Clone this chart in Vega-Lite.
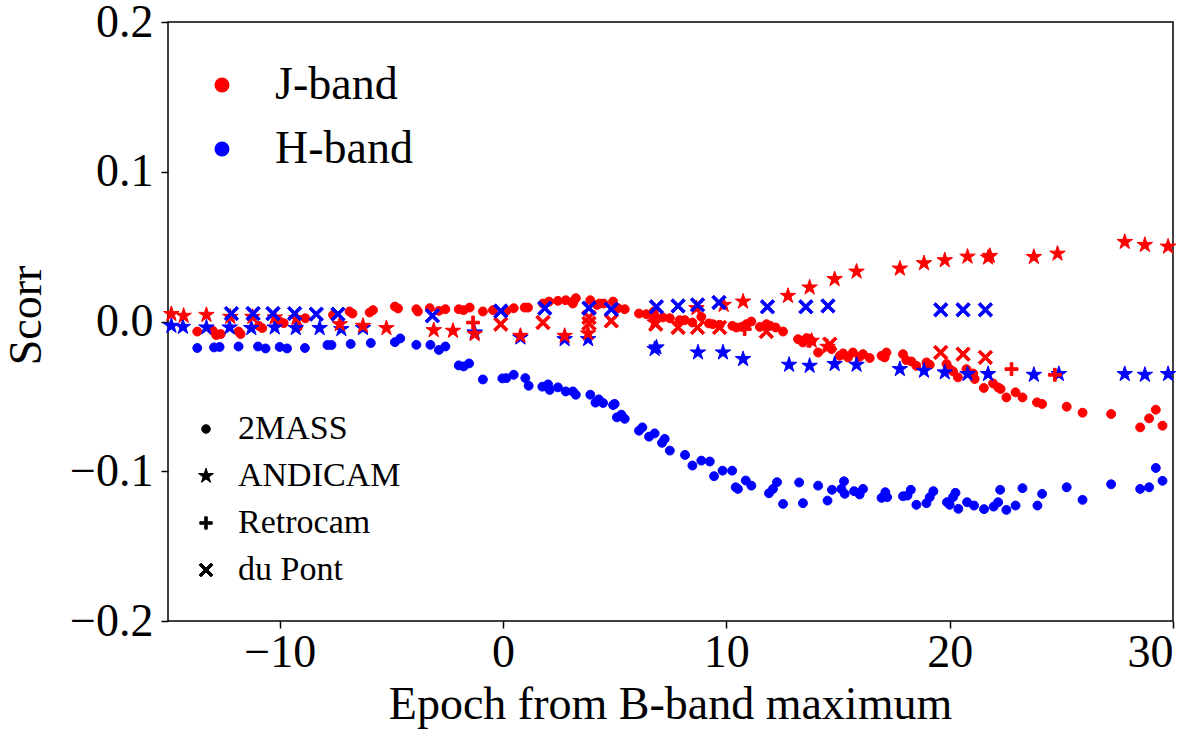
{
"$schema":"https://vega.github.io/schema/vega-lite/v6.json",
"width":1005,"height":599,
"autosize":{"type":"none"},
"padding":{"left":168,"top":22,"right":27,"bottom":116},
"background":"white",
"config":{"view":{"stroke":"black","strokeWidth":1.5},"font":"Liberation Serif",
"axis":{"grid":false,"domain":false,"tickColor":"black","tickWidth":1.5,"tickSize":7,"labelColor":"black","titleColor":"black","labelFontSize":46,"titleFontSize":46,"titleFontWeight":"normal","labelFont":"Liberation Serif","titleFont":"Liberation Serif"},
"legend":{"padding":0,"labelFont":"Liberation Serif","labelColor":"black","labelLimit":500}},
"datasets":{"pts":[
{"t":-13.69,"s":-0.0067,"b":"J-band","i":"2MASS"},{"t":-12.99,"s":-0.0062,"b":"J-band","i":"2MASS"},{"t":-12.84,"s":-0.0091,"b":"J-band","i":"2MASS"},{"t":-12.64,"s":-0.0084,"b":"J-band","i":"2MASS"},{"t":-11.84,"s":-0.0067,"b":"J-band","i":"2MASS"},{"t":-11.75,"s":-0.0084,"b":"J-band","i":"2MASS"},{"t":-10.93,"s":-0.0029,"b":"J-band","i":"2MASS"},{"t":-10.78,"s":-0.0044,"b":"J-band","i":"2MASS"},{"t":-10.0,"s":0.0,"b":"J-band","i":"2MASS"},{"t":-9.82,"s":-0.0011,"b":"J-band","i":"2MASS"},{"t":-9.18,"s":-0.0036,"b":"J-band","i":"2MASS"},{"t":-8.85,"s":0.0022,"b":"J-band","i":"2MASS"},{"t":-7.61,"s":0.0044,"b":"J-band","i":"2MASS"},{"t":-6.87,"s":0.0067,"b":"J-band","i":"2MASS"},{"t":-6.74,"s":0.0053,"b":"J-band","i":"2MASS"},{"t":-5.97,"s":0.006,"b":"J-band","i":"2MASS"},{"t":-5.82,"s":0.0076,"b":"J-band","i":"2MASS"},{"t":-4.84,"s":0.01,"b":"J-band","i":"2MASS"},{"t":-4.7,"s":0.0087,"b":"J-band","i":"2MASS"},{"t":-3.88,"s":0.0082,"b":"J-band","i":"2MASS"},{"t":-3.81,"s":0.0067,"b":"J-band","i":"2MASS"},{"t":-3.28,"s":0.0089,"b":"J-band","i":"2MASS"},{"t":-2.87,"s":0.0071,"b":"J-band","i":"2MASS"},{"t":-2.58,"s":0.0082,"b":"J-band","i":"2MASS"},{"t":-1.98,"s":0.0082,"b":"J-band","i":"2MASS"},{"t":-1.76,"s":0.0076,"b":"J-band","i":"2MASS"},{"t":-1.49,"s":0.0093,"b":"J-band","i":"2MASS"},{"t":-0.9,"s":0.0067,"b":"J-band","i":"2MASS"},{"t":-0.45,"s":0.0076,"b":"J-band","i":"2MASS"},{"t":0.15,"s":0.0071,"b":"J-band","i":"2MASS"},{"t":0.48,"s":0.0089,"b":"J-band","i":"2MASS"},{"t":0.97,"s":0.0093,"b":"J-band","i":"2MASS"},{"t":1.12,"s":0.0093,"b":"J-band","i":"2MASS"},{"t":1.79,"s":0.012,"b":"J-band","i":"2MASS"},{"t":2.06,"s":0.0133,"b":"J-band","i":"2MASS"},{"t":2.46,"s":0.0138,"b":"J-band","i":"2MASS"},{"t":2.81,"s":0.0142,"b":"J-band","i":"2MASS"},{"t":3.17,"s":0.0138,"b":"J-band","i":"2MASS"},{"t":3.26,"s":0.0156,"b":"J-band","i":"2MASS"},{"t":3.13,"s":0.012,"b":"J-band","i":"2MASS"},{"t":3.91,"s":0.0142,"b":"J-band","i":"2MASS"},{"t":4.21,"s":0.0111,"b":"J-band","i":"2MASS"},{"t":4.33,"s":0.012,"b":"J-band","i":"2MASS"},{"t":4.51,"s":0.012,"b":"J-band","i":"2MASS"},{"t":4.93,"s":0.0133,"b":"J-band","i":"2MASS"},{"t":5.15,"s":0.0089,"b":"J-band","i":"2MASS"},{"t":5.45,"s":0.0082,"b":"J-band","i":"2MASS"},{"t":6.09,"s":0.0053,"b":"J-band","i":"2MASS"},{"t":6.42,"s":0.0049,"b":"J-band","i":"2MASS"},{"t":6.75,"s":0.0067,"b":"J-band","i":"2MASS"},{"t":6.79,"s":0.0038,"b":"J-band","i":"2MASS"},{"t":7.16,"s":0.0027,"b":"J-band","i":"2MASS"},{"t":7.47,"s":0.0022,"b":"J-band","i":"2MASS"},{"t":7.91,"s":0.0009,"b":"J-band","i":"2MASS"},{"t":8.14,"s":0.0009,"b":"J-band","i":"2MASS"},{"t":8.48,"s":-0.0007,"b":"J-band","i":"2MASS"},{"t":8.88,"s":0.0031,"b":"J-band","i":"2MASS"},{"t":9.22,"s":-0.0013,"b":"J-band","i":"2MASS"},{"t":9.4,"s":-0.0018,"b":"J-band","i":"2MASS"},{"t":9.7,"s":-0.0022,"b":"J-band","i":"2MASS"},{"t":10.27,"s":-0.0029,"b":"J-band","i":"2MASS"},{"t":10.45,"s":-0.004,"b":"J-band","i":"2MASS"},{"t":10.68,"s":-0.0036,"b":"J-band","i":"2MASS"},{"t":10.9,"s":-0.0018,"b":"J-band","i":"2MASS"},{"t":11.12,"s":0.0,"b":"J-band","i":"2MASS"},{"t":11.5,"s":-0.0036,"b":"J-band","i":"2MASS"},{"t":11.8,"s":-0.0018,"b":"J-band","i":"2MASS"},{"t":11.97,"s":-0.0029,"b":"J-band","i":"2MASS"},{"t":12.21,"s":-0.004,"b":"J-band","i":"2MASS"},{"t":12.54,"s":-0.0067,"b":"J-band","i":"2MASS"},{"t":13.21,"s":-0.0118,"b":"J-band","i":"2MASS"},{"t":13.43,"s":-0.014,"b":"J-band","i":"2MASS"},{"t":13.59,"s":-0.0111,"b":"J-band","i":"2MASS"},{"t":13.81,"s":-0.0129,"b":"J-band","i":"2MASS"},{"t":14.11,"s":-0.0207,"b":"J-band","i":"2MASS"},{"t":14.71,"s":-0.0184,"b":"J-band","i":"2MASS"},{"t":15.08,"s":-0.0229,"b":"J-band","i":"2MASS"},{"t":15.23,"s":-0.0213,"b":"J-band","i":"2MASS"},{"t":15.45,"s":-0.024,"b":"J-band","i":"2MASS"},{"t":15.67,"s":-0.0207,"b":"J-band","i":"2MASS"},{"t":15.97,"s":-0.0236,"b":"J-band","i":"2MASS"},{"t":16.12,"s":-0.0218,"b":"J-band","i":"2MASS"},{"t":16.42,"s":-0.0244,"b":"J-band","i":"2MASS"},{"t":16.95,"s":-0.0229,"b":"J-band","i":"2MASS"},{"t":17.17,"s":-0.0207,"b":"J-band","i":"2MASS"},{"t":17.09,"s":-0.024,"b":"J-band","i":"2MASS"},{"t":17.91,"s":-0.0218,"b":"J-band","i":"2MASS"},{"t":18.06,"s":-0.0258,"b":"J-band","i":"2MASS"},{"t":18.29,"s":-0.0267,"b":"J-band","i":"2MASS"},{"t":18.51,"s":-0.0296,"b":"J-band","i":"2MASS"},{"t":18.96,"s":-0.0273,"b":"J-band","i":"2MASS"},{"t":19.11,"s":-0.0289,"b":"J-band","i":"2MASS"},{"t":19.86,"s":-0.0284,"b":"J-band","i":"2MASS"},{"t":20.0,"s":-0.0318,"b":"J-band","i":"2MASS"},{"t":20.15,"s":-0.0333,"b":"J-band","i":"2MASS"},{"t":20.37,"s":-0.0373,"b":"J-band","i":"2MASS"},{"t":20.75,"s":-0.0318,"b":"J-band","i":"2MASS"},{"t":21.05,"s":-0.0347,"b":"J-band","i":"2MASS"},{"t":21.12,"s":-0.0384,"b":"J-band","i":"2MASS"},{"t":21.53,"s":-0.0444,"b":"J-band","i":"2MASS"},{"t":21.94,"s":-0.0413,"b":"J-band","i":"2MASS"},{"t":22.17,"s":-0.044,"b":"J-band","i":"2MASS"},{"t":22.28,"s":-0.0451,"b":"J-band","i":"2MASS"},{"t":22.54,"s":-0.0507,"b":"J-band","i":"2MASS"},{"t":22.95,"s":-0.0473,"b":"J-band","i":"2MASS"},{"t":23.26,"s":-0.0507,"b":"J-band","i":"2MASS"},{"t":23.91,"s":-0.054,"b":"J-band","i":"2MASS"},{"t":24.14,"s":-0.0551,"b":"J-band","i":"2MASS"},{"t":25.24,"s":-0.0569,"b":"J-band","i":"2MASS"},{"t":25.95,"s":-0.0609,"b":"J-band","i":"2MASS"},{"t":27.23,"s":-0.0618,"b":"J-band","i":"2MASS"},{"t":28.53,"s":-0.0707,"b":"J-band","i":"2MASS"},{"t":28.93,"s":-0.0647,"b":"J-band","i":"2MASS"},{"t":29.23,"s":-0.0589,"b":"J-band","i":"2MASS"},{"t":29.53,"s":-0.0696,"b":"J-band","i":"2MASS"},
{"t":-13.69,"s":-0.0177,"b":"H-band","i":"2MASS"},{"t":-12.94,"s":-0.0173,"b":"H-band","i":"2MASS"},{"t":-12.69,"s":-0.017,"b":"H-band","i":"2MASS"},{"t":-11.84,"s":-0.0167,"b":"H-band","i":"2MASS"},{"t":-10.97,"s":-0.0167,"b":"H-band","i":"2MASS"},{"t":-10.63,"s":-0.018,"b":"H-band","i":"2MASS"},{"t":-10.0,"s":-0.017,"b":"H-band","i":"2MASS"},{"t":-9.67,"s":-0.018,"b":"H-band","i":"2MASS"},{"t":-8.87,"s":-0.0177,"b":"H-band","i":"2MASS"},{"t":-7.86,"s":-0.0157,"b":"H-band","i":"2MASS"},{"t":-7.68,"s":-0.0157,"b":"H-band","i":"2MASS"},{"t":-6.82,"s":-0.015,"b":"H-band","i":"2MASS"},{"t":-5.92,"s":-0.0144,"b":"H-band","i":"2MASS"},{"t":-4.84,"s":-0.0138,"b":"H-band","i":"2MASS"},{"t":-4.6,"s":-0.0113,"b":"H-band","i":"2MASS"},{"t":-3.88,"s":-0.0156,"b":"H-band","i":"2MASS"},{"t":-3.25,"s":-0.0156,"b":"H-band","i":"2MASS"},{"t":-2.87,"s":-0.019,"b":"H-band","i":"2MASS"},{"t":-2.58,"s":-0.0167,"b":"H-band","i":"2MASS"},{"t":-1.98,"s":-0.0293,"b":"H-band","i":"2MASS"},{"t":-1.76,"s":-0.03,"b":"H-band","i":"2MASS"},{"t":-1.52,"s":-0.028,"b":"H-band","i":"2MASS"},{"t":-0.9,"s":-0.0387,"b":"H-band","i":"2MASS"},{"t":-0.03,"s":-0.038,"b":"H-band","i":"2MASS"},{"t":0.15,"s":-0.0378,"b":"H-band","i":"2MASS"},{"t":0.48,"s":-0.0356,"b":"H-band","i":"2MASS"},{"t":1.0,"s":-0.0378,"b":"H-band","i":"2MASS"},{"t":1.15,"s":-0.0429,"b":"H-band","i":"2MASS"},{"t":1.76,"s":-0.0435,"b":"H-band","i":"2MASS"},{"t":2.02,"s":-0.042,"b":"H-band","i":"2MASS"},{"t":2.09,"s":-0.0457,"b":"H-band","i":"2MASS"},{"t":2.46,"s":-0.044,"b":"H-band","i":"2MASS"},{"t":2.81,"s":-0.0467,"b":"H-band","i":"2MASS"},{"t":3.13,"s":-0.0467,"b":"H-band","i":"2MASS"},{"t":3.26,"s":-0.0489,"b":"H-band","i":"2MASS"},{"t":3.91,"s":-0.0489,"b":"H-band","i":"2MASS"},{"t":4.14,"s":-0.0542,"b":"H-band","i":"2MASS"},{"t":4.29,"s":-0.052,"b":"H-band","i":"2MASS"},{"t":4.48,"s":-0.0544,"b":"H-band","i":"2MASS"},{"t":4.93,"s":-0.0558,"b":"H-band","i":"2MASS"},{"t":5.0,"s":-0.055,"b":"H-band","i":"2MASS"},{"t":5.1,"s":-0.064,"b":"H-band","i":"2MASS"},{"t":5.3,"s":-0.0622,"b":"H-band","i":"2MASS"},{"t":5.45,"s":-0.065,"b":"H-band","i":"2MASS"},{"t":6.09,"s":-0.0729,"b":"H-band","i":"2MASS"},{"t":6.24,"s":-0.0707,"b":"H-band","i":"2MASS"},{"t":6.54,"s":-0.0769,"b":"H-band","i":"2MASS"},{"t":6.79,"s":-0.0747,"b":"H-band","i":"2MASS"},{"t":7.12,"s":-0.081,"b":"H-band","i":"2MASS"},{"t":7.24,"s":-0.0784,"b":"H-band","i":"2MASS"},{"t":7.47,"s":-0.0862,"b":"H-band","i":"2MASS"},{"t":8.15,"s":-0.0891,"b":"H-band","i":"2MASS"},{"t":8.48,"s":-0.0962,"b":"H-band","i":"2MASS"},{"t":8.88,"s":-0.0929,"b":"H-band","i":"2MASS"},{"t":9.26,"s":-0.0935,"b":"H-band","i":"2MASS"},{"t":9.45,"s":-0.1033,"b":"H-band","i":"2MASS"},{"t":9.83,"s":-0.0996,"b":"H-band","i":"2MASS"},{"t":10.26,"s":-0.0996,"b":"H-band","i":"2MASS"},{"t":10.42,"s":-0.1107,"b":"H-band","i":"2MASS"},{"t":10.52,"s":-0.1118,"b":"H-band","i":"2MASS"},{"t":10.87,"s":-0.1062,"b":"H-band","i":"2MASS"},{"t":11.12,"s":-0.1096,"b":"H-band","i":"2MASS"},{"t":11.91,"s":-0.1147,"b":"H-band","i":"2MASS"},{"t":12.09,"s":-0.1118,"b":"H-band","i":"2MASS"},{"t":12.27,"s":-0.1073,"b":"H-band","i":"2MASS"},{"t":12.54,"s":-0.1218,"b":"H-band","i":"2MASS"},{"t":13.26,"s":-0.1075,"b":"H-band","i":"2MASS"},{"t":13.43,"s":-0.1213,"b":"H-band","i":"2MASS"},{"t":14.11,"s":-0.1096,"b":"H-band","i":"2MASS"},{"t":14.53,"s":-0.1196,"b":"H-band","i":"2MASS"},{"t":14.73,"s":-0.1124,"b":"H-band","i":"2MASS"},{"t":15.15,"s":-0.1118,"b":"H-band","i":"2MASS"},{"t":15.27,"s":-0.1067,"b":"H-band","i":"2MASS"},{"t":15.3,"s":-0.1151,"b":"H-band","i":"2MASS"},{"t":15.72,"s":-0.1133,"b":"H-band","i":"2MASS"},{"t":15.97,"s":-0.1155,"b":"H-band","i":"2MASS"},{"t":16.12,"s":-0.1118,"b":"H-band","i":"2MASS"},{"t":16.95,"s":-0.1178,"b":"H-band","i":"2MASS"},{"t":17.12,"s":-0.114,"b":"H-band","i":"2MASS"},{"t":17.2,"s":-0.1173,"b":"H-band","i":"2MASS"},{"t":17.91,"s":-0.1167,"b":"H-band","i":"2MASS"},{"t":18.11,"s":-0.1162,"b":"H-band","i":"2MASS"},{"t":18.26,"s":-0.1124,"b":"H-band","i":"2MASS"},{"t":18.51,"s":-0.1224,"b":"H-band","i":"2MASS"},{"t":18.96,"s":-0.1213,"b":"H-band","i":"2MASS"},{"t":19.11,"s":-0.1173,"b":"H-band","i":"2MASS"},{"t":19.27,"s":-0.1133,"b":"H-band","i":"2MASS"},{"t":19.88,"s":-0.1207,"b":"H-band","i":"2MASS"},{"t":20.0,"s":-0.1224,"b":"H-band","i":"2MASS"},{"t":20.15,"s":-0.1173,"b":"H-band","i":"2MASS"},{"t":20.26,"s":-0.1144,"b":"H-band","i":"2MASS"},{"t":20.39,"s":-0.1251,"b":"H-band","i":"2MASS"},{"t":20.78,"s":-0.1207,"b":"H-band","i":"2MASS"},{"t":21.09,"s":-0.1229,"b":"H-band","i":"2MASS"},{"t":21.54,"s":-0.1253,"b":"H-band","i":"2MASS"},{"t":21.97,"s":-0.1236,"b":"H-band","i":"2MASS"},{"t":22.17,"s":-0.1207,"b":"H-band","i":"2MASS"},{"t":22.26,"s":-0.1124,"b":"H-band","i":"2MASS"},{"t":22.54,"s":-0.1258,"b":"H-band","i":"2MASS"},{"t":22.95,"s":-0.1229,"b":"H-band","i":"2MASS"},{"t":23.26,"s":-0.1113,"b":"H-band","i":"2MASS"},{"t":23.93,"s":-0.1229,"b":"H-band","i":"2MASS"},{"t":24.14,"s":-0.1151,"b":"H-band","i":"2MASS"},{"t":25.24,"s":-0.1107,"b":"H-band","i":"2MASS"},{"t":25.95,"s":-0.1191,"b":"H-band","i":"2MASS"},{"t":27.23,"s":-0.1087,"b":"H-band","i":"2MASS"},{"t":28.53,"s":-0.1118,"b":"H-band","i":"2MASS"},{"t":28.93,"s":-0.1107,"b":"H-band","i":"2MASS"},{"t":29.23,"s":-0.0978,"b":"H-band","i":"2MASS"},{"t":29.53,"s":-0.1064,"b":"H-band","i":"2MASS"},
{"t":-14.85,"s":-0.0029,"b":"H-band","i":"ANDICAM"},{"t":-14.33,"s":-0.0036,"b":"H-band","i":"ANDICAM"},{"t":-13.28,"s":-0.004,"b":"H-band","i":"ANDICAM"},{"t":-12.24,"s":-0.004,"b":"H-band","i":"ANDICAM"},{"t":-11.27,"s":-0.0044,"b":"H-band","i":"ANDICAM"},{"t":-10.22,"s":-0.004,"b":"H-band","i":"ANDICAM"},{"t":-9.28,"s":-0.0044,"b":"H-band","i":"ANDICAM"},{"t":-8.21,"s":-0.0044,"b":"H-band","i":"ANDICAM"},{"t":-7.24,"s":-0.0051,"b":"H-band","i":"ANDICAM"},{"t":-6.27,"s":-0.0044,"b":"H-band","i":"ANDICAM"},{"t":-1.27,"s":-0.0073,"b":"H-band","i":"ANDICAM"},{"t":0.78,"s":-0.0107,"b":"H-band","i":"ANDICAM"},{"t":2.76,"s":-0.0118,"b":"H-band","i":"ANDICAM"},{"t":3.81,"s":-0.0118,"b":"H-band","i":"ANDICAM"},{"t":6.79,"s":-0.0184,"b":"H-band","i":"ANDICAM"},{"t":6.87,"s":-0.0173,"b":"H-band","i":"ANDICAM"},{"t":8.73,"s":-0.0207,"b":"H-band","i":"ANDICAM"},{"t":9.85,"s":-0.0207,"b":"H-band","i":"ANDICAM"},{"t":10.75,"s":-0.0251,"b":"H-band","i":"ANDICAM"},{"t":12.81,"s":-0.0289,"b":"H-band","i":"ANDICAM"},{"t":13.73,"s":-0.0296,"b":"H-band","i":"ANDICAM"},{"t":14.85,"s":-0.0284,"b":"H-band","i":"ANDICAM"},{"t":15.83,"s":-0.0289,"b":"H-band","i":"ANDICAM"},{"t":17.77,"s":-0.0318,"b":"H-band","i":"ANDICAM"},{"t":18.85,"s":-0.0329,"b":"H-band","i":"ANDICAM"},{"t":19.78,"s":-0.034,"b":"H-band","i":"ANDICAM"},{"t":20.8,"s":-0.0351,"b":"H-band","i":"ANDICAM"},{"t":21.72,"s":-0.0351,"b":"H-band","i":"ANDICAM"},{"t":23.77,"s":-0.0356,"b":"H-band","i":"ANDICAM"},{"t":24.89,"s":-0.0351,"b":"H-band","i":"ANDICAM"},{"t":27.84,"s":-0.0351,"b":"H-band","i":"ANDICAM"},{"t":28.74,"s":-0.0356,"b":"H-band","i":"ANDICAM"},{"t":29.78,"s":-0.0351,"b":"H-band","i":"ANDICAM"},
{"t":-14.85,"s":0.005,"b":"J-band","i":"ANDICAM"},{"t":-14.3,"s":0.0038,"b":"J-band","i":"ANDICAM"},{"t":-13.28,"s":0.0044,"b":"J-band","i":"ANDICAM"},{"t":-12.21,"s":0.0031,"b":"J-band","i":"ANDICAM"},{"t":-11.22,"s":0.0031,"b":"J-band","i":"ANDICAM"},{"t":-10.22,"s":0.0027,"b":"J-band","i":"ANDICAM"},{"t":-9.25,"s":0.0022,"b":"J-band","i":"ANDICAM"},{"t":-7.31,"s":-0.0018,"b":"J-band","i":"ANDICAM"},{"t":-6.27,"s":-0.0029,"b":"J-band","i":"ANDICAM"},{"t":-5.22,"s":-0.0044,"b":"J-band","i":"ANDICAM"},{"t":-3.1,"s":-0.0058,"b":"J-band","i":"ANDICAM"},{"t":-2.24,"s":-0.0062,"b":"J-band","i":"ANDICAM"},{"t":-1.27,"s":-0.0084,"b":"J-band","i":"ANDICAM"},{"t":0.78,"s":-0.0096,"b":"J-band","i":"ANDICAM"},{"t":2.76,"s":-0.0096,"b":"J-band","i":"ANDICAM"},{"t":3.81,"s":-0.008,"b":"J-band","i":"ANDICAM"},{"t":6.79,"s":-0.0007,"b":"J-band","i":"ANDICAM"},{"t":8.66,"s":0.0089,"b":"J-band","i":"ANDICAM"},{"t":9.88,"s":0.0111,"b":"J-band","i":"ANDICAM"},{"t":10.75,"s":0.0133,"b":"J-band","i":"ANDICAM"},{"t":12.76,"s":0.0171,"b":"J-band","i":"ANDICAM"},{"t":13.73,"s":0.0227,"b":"J-band","i":"ANDICAM"},{"t":14.85,"s":0.0283,"b":"J-band","i":"ANDICAM"},{"t":15.83,"s":0.0333,"b":"J-band","i":"ANDICAM"},{"t":17.77,"s":0.0353,"b":"J-band","i":"ANDICAM"},{"t":18.85,"s":0.0389,"b":"J-band","i":"ANDICAM"},{"t":19.78,"s":0.0409,"b":"J-band","i":"ANDICAM"},{"t":20.8,"s":0.0433,"b":"J-band","i":"ANDICAM"},{"t":21.72,"s":0.0427,"b":"J-band","i":"ANDICAM"},{"t":21.8,"s":0.0438,"b":"J-band","i":"ANDICAM"},{"t":23.77,"s":0.0431,"b":"J-band","i":"ANDICAM"},{"t":24.83,"s":0.0453,"b":"J-band","i":"ANDICAM"},{"t":27.84,"s":0.0531,"b":"J-band","i":"ANDICAM"},{"t":28.74,"s":0.0511,"b":"J-band","i":"ANDICAM"},{"t":29.78,"s":0.05,"b":"J-band","i":"ANDICAM"},{"t":13.82,"s":-0.0129,"b":"J-band","i":"ANDICAM"},{"t":14.53,"s":-0.0169,"b":"J-band","i":"ANDICAM"},
{"t":-0.1,"s":-0.0018,"b":"J-band","i":"du Pont"},{"t":1.79,"s":-0.0007,"b":"J-band","i":"du Pont"},{"t":3.85,"s":0.0027,"b":"J-band","i":"du Pont"},{"t":3.85,"s":-0.0013,"b":"J-band","i":"du Pont"},{"t":4.85,"s":0.0004,"b":"J-band","i":"du Pont"},{"t":6.84,"s":-0.0018,"b":"J-band","i":"du Pont"},{"t":7.84,"s":-0.004,"b":"J-band","i":"du Pont"},{"t":8.71,"s":-0.004,"b":"J-band","i":"du Pont"},{"t":9.7,"s":-0.004,"b":"J-band","i":"du Pont"},{"t":11.79,"s":-0.0067,"b":"J-band","i":"du Pont"},{"t":14.63,"s":-0.0151,"b":"J-band","i":"du Pont"},{"t":19.6,"s":-0.0207,"b":"J-band","i":"du Pont"},{"t":20.6,"s":-0.0218,"b":"J-band","i":"du Pont"},{"t":21.6,"s":-0.024,"b":"J-band","i":"du Pont"},
{"t":-12.16,"s":0.0053,"b":"H-band","i":"du Pont"},{"t":-11.19,"s":0.0053,"b":"H-band","i":"du Pont"},{"t":-10.3,"s":0.0053,"b":"H-band","i":"du Pont"},{"t":-9.33,"s":0.0053,"b":"H-band","i":"du Pont"},{"t":-8.36,"s":0.0049,"b":"H-band","i":"du Pont"},{"t":-7.39,"s":0.0049,"b":"H-band","i":"du Pont"},{"t":-3.16,"s":0.0038,"b":"H-band","i":"du Pont"},{"t":-0.1,"s":0.007,"b":"H-band","i":"du Pont"},{"t":1.87,"s":0.0089,"b":"H-band","i":"du Pont"},{"t":3.85,"s":0.0089,"b":"H-band","i":"du Pont"},{"t":4.85,"s":0.0082,"b":"H-band","i":"du Pont"},{"t":6.87,"s":0.0098,"b":"H-band","i":"du Pont"},{"t":7.84,"s":0.0104,"b":"H-band","i":"du Pont"},{"t":8.71,"s":0.0111,"b":"H-band","i":"du Pont"},{"t":9.67,"s":0.0127,"b":"H-band","i":"du Pont"},{"t":11.84,"s":0.0098,"b":"H-band","i":"du Pont"},{"t":13.56,"s":0.0098,"b":"H-band","i":"du Pont"},{"t":14.55,"s":0.0104,"b":"H-band","i":"du Pont"},{"t":19.6,"s":0.0078,"b":"H-band","i":"du Pont"},{"t":20.6,"s":0.0078,"b":"H-band","i":"du Pont"},{"t":21.6,"s":0.0078,"b":"H-band","i":"du Pont"},
{"t":-1.34,"s":-0.0007,"b":"J-band","i":"Retrocam"},{"t":10.82,"s":-0.0051,"b":"J-band","i":"Retrocam"},{"t":13.73,"s":-0.0129,"b":"J-band","i":"Retrocam"},{"t":22.77,"s":-0.0318,"b":"J-band","i":"Retrocam"},{"t":24.71,"s":-0.0356,"b":"J-band","i":"Retrocam"}
]},
"layer":[
{"data":{"name":"pts"},
"mark":{"type":"point","filled":true,"opacity":1,"strokeWidth":1,"size":360},
"encoding":{
"x":{"field":"t","type":"quantitative","scale":{"domain":[-15,30],"nice":false,"zero":false},
"axis":{"values":[-10,0,10,20,30],"title":"Epoch from B-band maximum","labelPadding":2,"titleX":502,"titleY":97,"titleBaseline":"alphabetic","titleAlign":"center"}},
"y":{"field":"s","type":"quantitative","scale":{"domain":[-0.2,0.2],"nice":false,"zero":false},
"axis":{"values":[-0.2,-0.1,0,0.1,0.2],"format":".1f","title":"Scorr","labelPadding":8,"titleX":-128,"titleY":293,"titleAngle":270,"titleBaseline":"alphabetic","titleAlign":"center"}},
"color":{"field":"b","type":"nominal","scale":{"domain":["J-band","H-band"],"range":["#ff0000","#0000ff"]},
"legend":{"orient":"none","legendX":31,"legendY":40,"title":null,"symbolType":"circle","symbolSize":225,"symbolStrokeWidth":0,"labelFontSize":46,"labelOffset":30,"rowPadding":18}},
"stroke":{"field":"b","type":"nominal","scale":{"domain":["J-band","H-band"],"range":["#ff0000","#0000ff"]},"legend":null},
"shape":{"field":"i","type":"nominal","scale":{"domain":["2MASS","ANDICAM","Retrocam","du Pont"],"range":["M-0.47,0A0.47,0.47 0 1,0 0.47,0A0.47,0.47 0 1,0 -0.47,0Z","M0,-0.86L0.193,-0.266L0.818,-0.266L0.312,0.101L0.505,0.696L0,0.329L-0.505,0.696L-0.312,0.101L-0.818,-0.266L-0.193,-0.266Z","M-0.14,-0.68L0.14,-0.68L0.14,-0.14L0.68,-0.14L0.68,0.14L0.14,0.14L0.14,0.68L-0.14,0.68L-0.14,0.14L-0.68,0.14L-0.68,-0.14L-0.14,-0.14Z","M-0.54,-0.76L0,-0.22L0.54,-0.76L0.76,-0.54L0.22,0L0.76,0.54L0.54,0.76L0,0.22L-0.54,0.76L-0.76,0.54L-0.22,0L-0.76,-0.54Z"]},
"legend":{"orient":"none","legendX":21,"legendY":390,"title":null,"symbolSize":330,"labelFontSize":34,"labelOffset":15,"rowPadding":13,"symbolFillColor":"black","symbolStrokeColor":"black","symbolStrokeWidth":1}}
}},
{"mark":{"type":"rule","strokeDash":[3,4.3],"strokeWidth":2.5,"color":"black"},
"encoding":{"y":{"datum":0,"type":"quantitative"}}}
]
}
